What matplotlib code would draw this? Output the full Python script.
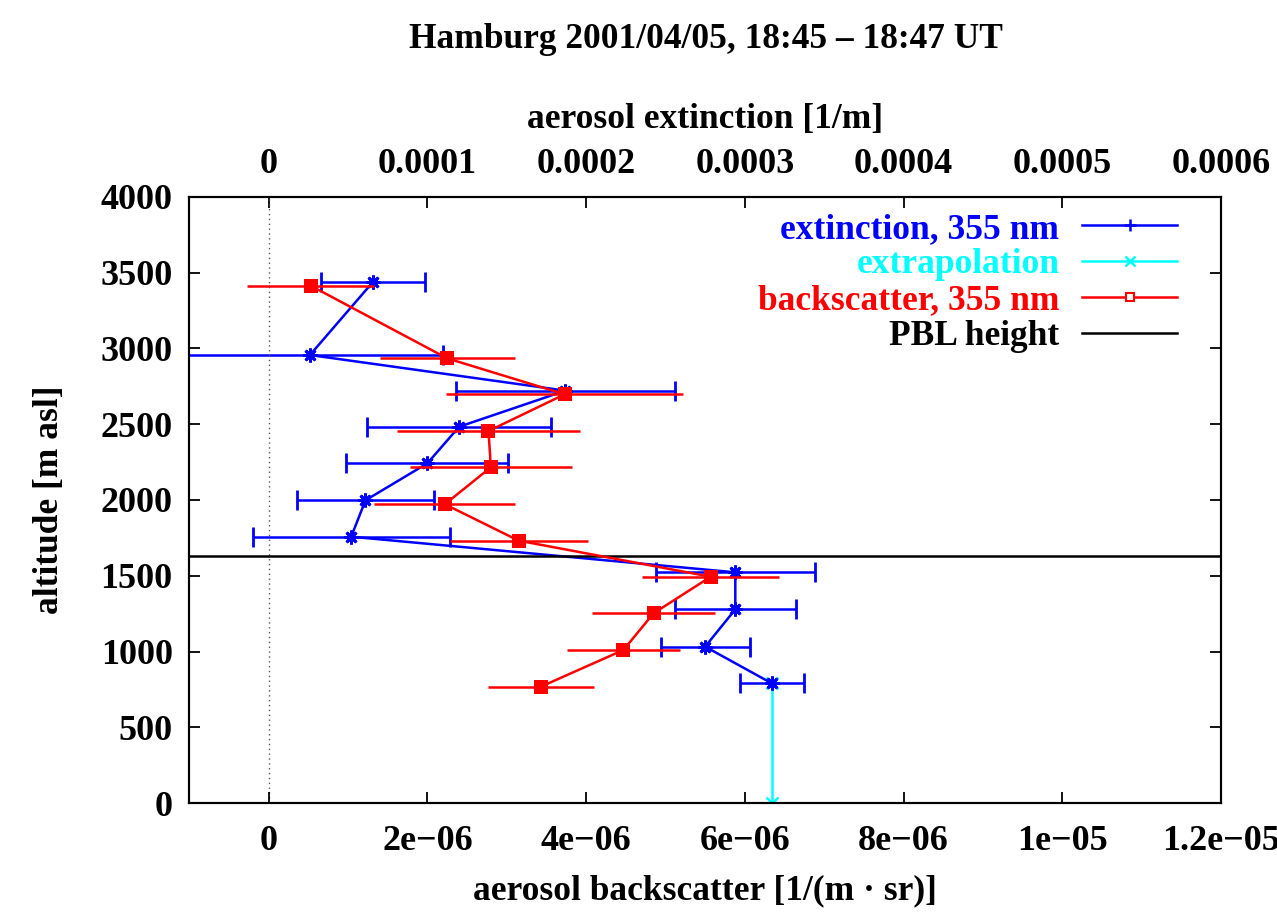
import matplotlib
matplotlib.use("Agg")
import matplotlib.pyplot as plt
from matplotlib.lines import Line2D

# ---- data ----
alt_ext = [3439, 2956, 2721, 2483, 2242, 1998, 1758, 1523, 1279, 1033, 791]
ext = [6.58e-5, 2.6e-5, 1.87e-4, 1.20e-4, 1.00e-4, 6.1e-5, 5.2e-5, 2.94e-4, 2.94e-4, 2.75e-4, 3.17e-4]
ext_err = [3.3e-5, 8.4e-5, 6.9e-5, 5.8e-5, 5.1e-5, 4.3e-5, 6.2e-5, 5.0e-5, 3.8e-5, 2.8e-5, 2.0e-5]

alt_bsc = [3413, 2934, 2697, 2455, 2216, 1972, 1732, 1494, 1253, 1011, 769]
bsc = [0.53e-6, 2.25e-6, 3.73e-6, 2.77e-6, 2.80e-6, 2.22e-6, 3.15e-6, 5.57e-6, 4.85e-6, 4.47e-6, 3.43e-6]
bsc_err = [0.80e-6, 0.85e-6, 1.49e-6, 1.15e-6, 1.02e-6, 0.89e-6, 0.87e-6, 0.86e-6, 0.77e-6, 0.71e-6, 0.67e-6]

extrap_alt = [791, 0]
extrap_ext = [3.17e-4, 3.17e-4]

pbl_height = 1630

bsc_ticks = [0, 2e-6, 4e-6, 6e-6, 8e-6, 1e-5, 1.2e-5]
bsc_ticklabels = ["0", "2e\u221206", "4e\u221206", "6e\u221206", "8e\u221206", "1e\u221205", "1.2e\u221205"]
ext_ticks = [0, 1e-4, 2e-4, 3e-4, 4e-4, 5e-4, 6e-4]
ext_ticklabels = ["0", "0.0001", "0.0002", "0.0003", "0.0004", "0.0005", "0.0006"]
alt_ticks = [0, 500, 1000, 1500, 2000, 2500, 3000, 3500, 4000]

labels = ["extinction, 355 nm", "extrapolation", "backscatter, 355 nm", "PBL height"]
colors = ["#0000ff", "#00ffff", "#ff0000", "#000000"]

# ---- style ----
plt.rcParams['font.family'] = ['Liberation Serif', 'DejaVu Serif']
plt.rcParams['font.weight'] = 'bold'
FS = 25.5
TFS = 26

fig = plt.figure(figsize=(12.77, 9.18), dpi=100)
ax = fig.add_axes([189.3/1277, 1 - 803.3/918, (1221 - 189.3)/1277, (803.3 - 196.7)/918])
ax2 = ax.twiny()
ax.set_zorder(ax2.get_zorder() + 1)
ax.patch.set_visible(False)

ax.set_xlim(-1e-6, 1.2e-5)
ax2.set_xlim(-5e-5, 6e-4)
ax.set_ylim(0, 4000)

# zero line
ax.axvline(0, color="#555555", linestyle=(0, (1, 2.5)), linewidth=1.0, zorder=1)
# PBL
ax.axhline(pbl_height, color="black", linewidth=1.8, zorder=2)

star = (8, 2, 0)
# extrapolation
ax2.plot(extrap_ext, extrap_alt, color=colors[1], linewidth=1.8, marker="x",
         markersize=8, markeredgewidth=1.8, zorder=2)
# extinction
ax2.errorbar(ext, alt_ext, xerr=ext_err, color=colors[0], linewidth=1.8,
             elinewidth=1.8, capsize=7, capthick=1.8, marker=star,
             markersize=10, markeredgewidth=2.0, zorder=3)
# backscatter
ax.errorbar(bsc, alt_bsc, xerr=bsc_err, color=colors[2], linewidth=1.8,
            elinewidth=1.8, capsize=7, capthick=1.8, marker="s",
            markersize=9.5, markeredgewidth=0, zorder=4)

# ticks
ax.set_xticks(bsc_ticks)
ax.set_xticklabels(bsc_ticklabels)
ax.set_yticks(alt_ticks)
ax2.set_xticks(ext_ticks)
ax2.set_xticklabels(ext_ticklabels)
ax.tick_params(axis="x", direction="in", length=8, width=1.3, labelsize=TFS, pad=15.5, top=False)
ax.tick_params(axis="y", direction="in", length=8, width=1.3, labelsize=TFS, pad=12, right=True)
ax2.tick_params(axis="x", direction="in", length=8, width=1.3, labelsize=TFS, pad=11.5)
for a in (ax, ax2):
    for s in a.spines.values():
        s.set_linewidth(1.5)

ax.set_xlabel("aerosol backscatter [1/(m \u00b7 sr)]", fontsize=FS, fontweight="bold", labelpad=12)
ax2.set_xlabel("aerosol extinction [1/m]", fontsize=FS, fontweight="bold", labelpad=14)
ax.set_ylabel("altitude [m asl]", fontsize=FS, fontweight="bold", labelpad=25)
fig.suptitle("Hamburg 2001/04/05, 18:45 \u2013 18:47 UT", fontsize=FS, fontweight="bold",
             y=1 - 40/918, va="center", x=(190 + 1221) / 2 / 1277)

handles = [
    Line2D([], [], color=colors[0], linewidth=1.8, marker="+", markersize=9, markeredgewidth=1.8),
    Line2D([], [], color=colors[1], linewidth=1.8, marker="x", markersize=7, markeredgewidth=1.8),
    Line2D([], [], color=colors[2], linewidth=1.8, marker="s", markersize=6,
           markerfacecolor="white", markeredgewidth=1.5),
    Line2D([], [], color=colors[3], linewidth=1.8),
]
leg = ax.legend(handles, labels, loc="upper right", frameon=False, markerfirst=False,
                fontsize=FS, handlelength=2.68, handletextpad=0.65, labelspacing=0.08,
                borderaxespad=0.05, bbox_to_anchor=(0.973, 1.0), labelcolor=colors)
for t in leg.get_texts():
    t.set_fontweight("bold")
    t.set_ha("right")

fig.savefig("out.png", dpi=100)
